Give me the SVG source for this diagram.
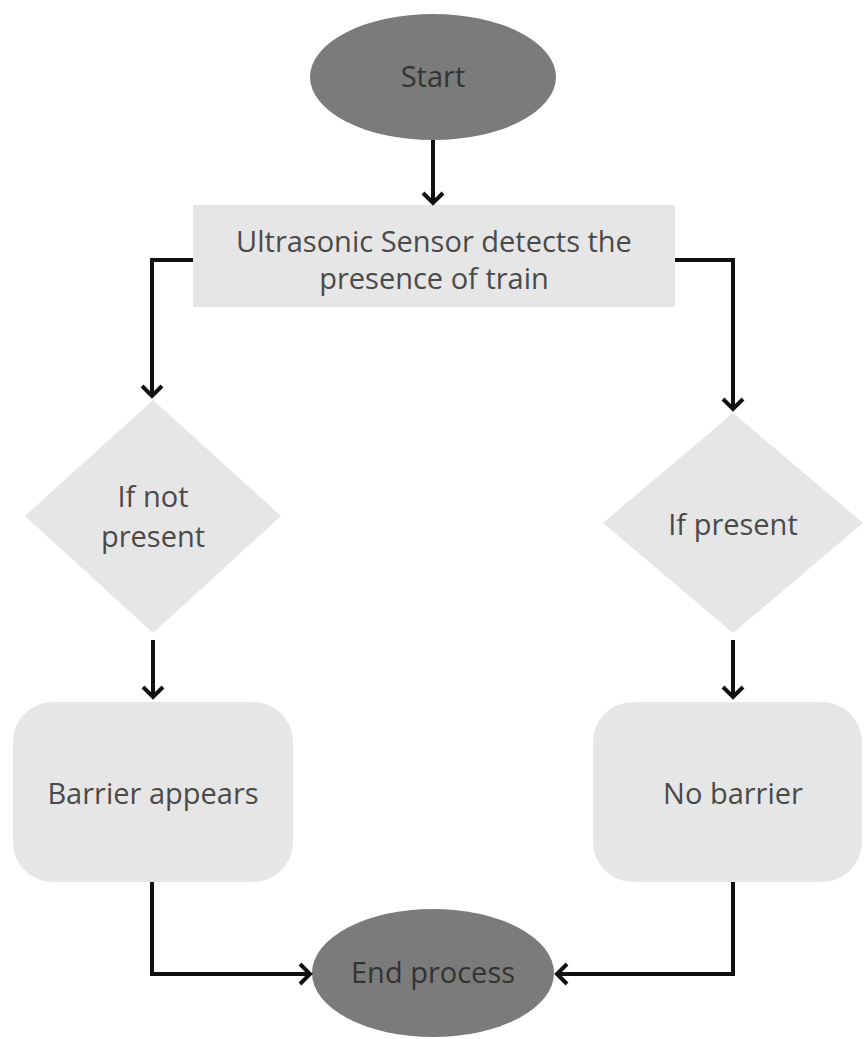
<svg xmlns="http://www.w3.org/2000/svg" width="866" height="1039" viewBox="0 0 866 1039">
<style>
.term{fill:#7b7b7b;}
.box{fill:#e6e6e6;}
.lbl{font-family:"Open Sans","Liberation Sans",sans-serif;font-size:29px;fill:#4a4a4a;text-anchor:middle;}
.tl{fill:#333;}
.conn{fill:none;stroke:#111;stroke-width:4;stroke-linejoin:miter;}
</style>
<defs>
<marker id="ah" markerWidth="8" markerHeight="8" refX="6" refY="4" orient="auto" markerUnits="userSpaceOnUse" viewBox="0 0 8 8" overflow="visible">
<polyline points="-4,-6 6,4 -4,14" fill="none" stroke="#111" stroke-width="4"/>
</marker>
</defs>
<rect width="866" height="1039" fill="#ffffff"/>
<g id="start"><ellipse class="term" cx="433" cy="77" rx="123" ry="63"/><text class="lbl tl" x="433" y="87">Start</text></g>
<g id="sensor"><rect class="box" x="193" y="205" width="482" height="102"/><text class="lbl" x="434" y="252">Ultrasonic Sensor detects the</text><text class="lbl" x="434" y="289">presence of train</text></g>
<g id="ifnot"><polygon class="box" points="153,400 281,516 153,633 25,516"/><text class="lbl" x="153" y="507">If not</text><text class="lbl" x="153" y="547">present</text></g>
<g id="ifpresent"><polygon class="box" points="733,413 863,523 733,633 603,523"/><text class="lbl" x="733" y="535">If present</text></g>
<g id="barrier"><rect class="box" x="13" y="702" width="280" height="180" rx="40"/><text class="lbl" x="153" y="804">Barrier appears</text></g>
<g id="nobarrier"><rect class="box" x="593" y="702" width="269" height="180" rx="40"/><text class="lbl" x="733" y="804">No barrier</text></g>
<g id="end"><ellipse class="term" cx="433" cy="973" rx="121" ry="64"/><text class="lbl tl" x="433" y="983">End process</text></g>
<g id="connectors">
<path class="conn" d="M433,140 V203" marker-end="url(#ah)"/>
<path class="conn" d="M193,260 H152 V396" marker-end="url(#ah)"/>
<path class="conn" d="M675,260 H733 V409" marker-end="url(#ah)"/>
<path class="conn" d="M153,640 V697" marker-end="url(#ah)"/>
<path class="conn" d="M733,640 V697" marker-end="url(#ah)"/>
<path class="conn" d="M152,882 V974 H310" marker-end="url(#ah)"/>
<path class="conn" d="M733,882 V974 H557" marker-end="url(#ah)"/>
</g>
</svg>
